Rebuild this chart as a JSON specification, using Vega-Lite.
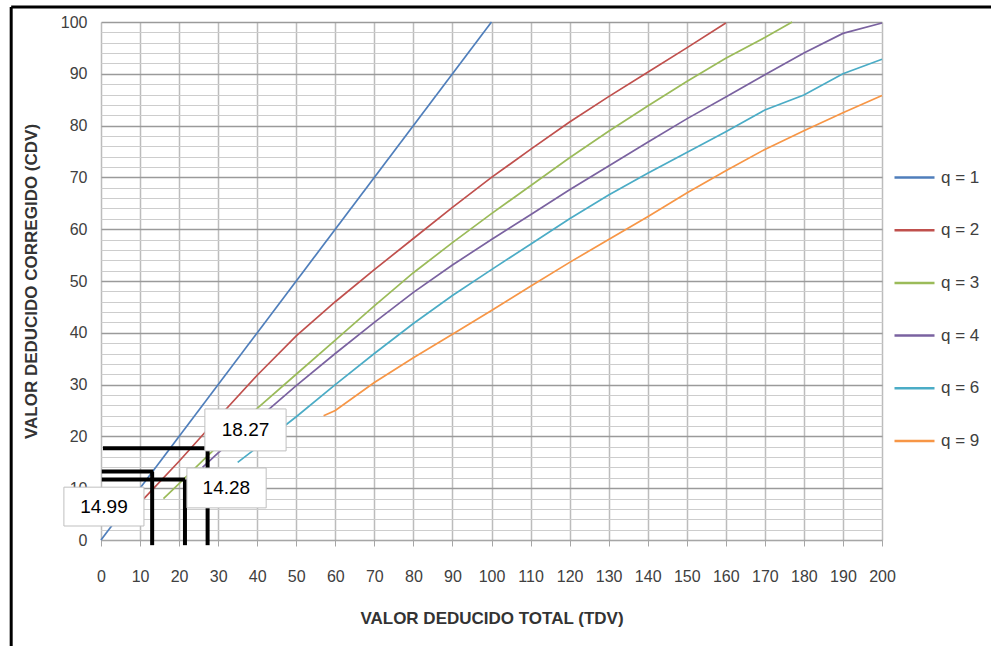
{
  "$schema": "https://vega.github.io/schema/vega-lite/v6.json",
  "width": 781,
  "height": 518,
  "autosize": {"type": "none"},
  "padding": {"left": 101, "top": 22, "right": 109, "bottom": 106},
  "background": "white",
  "config": {
    "view": {"stroke": null},
    "font": "Liberation Sans"
  },
  "datasets": {
    "frame": [
      {"x": -23, "y": 102.9, "x2": 228, "y2": 102.9},
      {"x": -23, "y": 102.9, "x2": -23, "y2": -21}
    ],
    "curves": [
      {"serie": "q = 1", "x": 0, "y": 0},
      {"serie": "q = 1", "x": 100, "y": 100},
      {"serie": "q = 2", "x": 11, "y": 8},
      {"serie": "q = 2", "x": 20, "y": 15.2},
      {"serie": "q = 2", "x": 30, "y": 23.6},
      {"serie": "q = 2", "x": 40, "y": 31.8},
      {"serie": "q = 2", "x": 50, "y": 39.4},
      {"serie": "q = 2", "x": 60, "y": 46},
      {"serie": "q = 2", "x": 70, "y": 52.2},
      {"serie": "q = 2", "x": 80, "y": 58.2},
      {"serie": "q = 2", "x": 90, "y": 64.2},
      {"serie": "q = 2", "x": 100, "y": 70},
      {"serie": "q = 2", "x": 110, "y": 75.4},
      {"serie": "q = 2", "x": 120, "y": 80.7},
      {"serie": "q = 2", "x": 130, "y": 85.6},
      {"serie": "q = 2", "x": 140, "y": 90.3},
      {"serie": "q = 2", "x": 150, "y": 95},
      {"serie": "q = 2", "x": 160, "y": 99.8},
      {"serie": "q = 3", "x": 16, "y": 8},
      {"serie": "q = 3", "x": 20, "y": 10.9},
      {"serie": "q = 3", "x": 30, "y": 18.2},
      {"serie": "q = 3", "x": 40, "y": 25.4},
      {"serie": "q = 3", "x": 50, "y": 32},
      {"serie": "q = 3", "x": 60, "y": 38.6},
      {"serie": "q = 3", "x": 70, "y": 45.2},
      {"serie": "q = 3", "x": 80, "y": 51.6},
      {"serie": "q = 3", "x": 90, "y": 57.4},
      {"serie": "q = 3", "x": 100, "y": 63},
      {"serie": "q = 3", "x": 110, "y": 68.4},
      {"serie": "q = 3", "x": 120, "y": 73.8},
      {"serie": "q = 3", "x": 130, "y": 78.9},
      {"serie": "q = 3", "x": 140, "y": 83.8},
      {"serie": "q = 3", "x": 150, "y": 88.5},
      {"serie": "q = 3", "x": 160, "y": 93},
      {"serie": "q = 3", "x": 170, "y": 97},
      {"serie": "q = 3", "x": 177, "y": 100},
      {"serie": "q = 4", "x": 26, "y": 14},
      {"serie": "q = 4", "x": 30, "y": 16.8},
      {"serie": "q = 4", "x": 40, "y": 23.3},
      {"serie": "q = 4", "x": 50, "y": 29.8},
      {"serie": "q = 4", "x": 60, "y": 36},
      {"serie": "q = 4", "x": 70, "y": 42},
      {"serie": "q = 4", "x": 80, "y": 47.8},
      {"serie": "q = 4", "x": 90, "y": 53.1},
      {"serie": "q = 4", "x": 100, "y": 58},
      {"serie": "q = 4", "x": 110, "y": 62.8},
      {"serie": "q = 4", "x": 120, "y": 67.6},
      {"serie": "q = 4", "x": 130, "y": 72.2},
      {"serie": "q = 4", "x": 140, "y": 76.8},
      {"serie": "q = 4", "x": 150, "y": 81.3},
      {"serie": "q = 4", "x": 160, "y": 85.5},
      {"serie": "q = 4", "x": 170, "y": 89.8},
      {"serie": "q = 4", "x": 180, "y": 94},
      {"serie": "q = 4", "x": 190, "y": 97.8},
      {"serie": "q = 4", "x": 200, "y": 99.8},
      {"serie": "q = 6", "x": 35, "y": 15},
      {"serie": "q = 6", "x": 40, "y": 17.9},
      {"serie": "q = 6", "x": 50, "y": 23.8},
      {"serie": "q = 6", "x": 60, "y": 30},
      {"serie": "q = 6", "x": 70, "y": 36},
      {"serie": "q = 6", "x": 80, "y": 41.8},
      {"serie": "q = 6", "x": 90, "y": 47.2},
      {"serie": "q = 6", "x": 100, "y": 52.2},
      {"serie": "q = 6", "x": 110, "y": 57.1},
      {"serie": "q = 6", "x": 120, "y": 62},
      {"serie": "q = 6", "x": 130, "y": 66.6},
      {"serie": "q = 6", "x": 140, "y": 70.8},
      {"serie": "q = 6", "x": 150, "y": 74.8},
      {"serie": "q = 6", "x": 160, "y": 78.8},
      {"serie": "q = 6", "x": 170, "y": 83},
      {"serie": "q = 6", "x": 180, "y": 85.9},
      {"serie": "q = 6", "x": 190, "y": 90},
      {"serie": "q = 6", "x": 200, "y": 92.8},
      {"serie": "q = 9", "x": 57, "y": 24},
      {"serie": "q = 9", "x": 60, "y": 25},
      {"serie": "q = 9", "x": 70, "y": 30.4},
      {"serie": "q = 9", "x": 80, "y": 35.2},
      {"serie": "q = 9", "x": 90, "y": 39.7},
      {"serie": "q = 9", "x": 100, "y": 44.3},
      {"serie": "q = 9", "x": 110, "y": 49},
      {"serie": "q = 9", "x": 120, "y": 53.6},
      {"serie": "q = 9", "x": 130, "y": 58},
      {"serie": "q = 9", "x": 140, "y": 62.4},
      {"serie": "q = 9", "x": 150, "y": 67},
      {"serie": "q = 9", "x": 160, "y": 71.3},
      {"serie": "q = 9", "x": 170, "y": 75.4},
      {"serie": "q = 9", "x": 180, "y": 79},
      {"serie": "q = 9", "x": 190, "y": 82.5},
      {"serie": "q = 9", "x": 200, "y": 85.8}
    ],
    "guides": [
      {"x": 0.5, "y": 17.7, "x2": 26.6, "y2": 17.7},
      {"x": 27.3, "y": 17.7, "x2": 27.3, "y2": -1},
      {"x": 0.2, "y": 13.2, "x2": 13.4, "y2": 13.2},
      {"x": 13.1, "y": 13.2, "x2": 13.1, "y2": -1},
      {"x": 0.2, "y": 11.7, "x2": 21.5, "y2": 11.7},
      {"x": 21.5, "y": 11.7, "x2": 21.5, "y2": -1}
    ],
    "boxes": [
      {"x": 26.6, "x2": 47.4, "y": 17.2, "y2": 25.3, "label": "18.27", "cx": 37, "cy": 21.2},
      {"x": 22.0, "x2": 42.3, "y": 6.2, "y2": 13.9, "label": "14.28", "cx": 32.1, "cy": 10.0},
      {"x": -9.5, "x2": 11.0, "y": 2.7, "y2": 10.2, "label": "14.99", "cx": 0.75, "cy": 6.4}
    ]
  },
  "encoding": {
    "x": {
      "field": "x",
      "type": "quantitative",
      "scale": {"domain": [0, 200], "nice": false, "zero": false},
      "axis": {
        "title": "VALOR DEDUCIDO TOTAL (TDV)",
        "values": [0, 10, 20, 30, 40, 50, 60, 70, 80, 90, 100, 110, 120, 130, 140, 150, 160, 170, 180, 190, 200],
        "grid": true,
        "gridColor": "#bcbcbc",
        "gridWidth": 1.5,
        "domain": true,
        "domainColor": "#a6a6a6",
        "domainWidth": 1,
        "ticks": true,
        "tickColor": "#a6a6a6",
        "tickSize": 6,
        "labelFont": "Liberation Sans",
        "labelFontSize": 16,
        "labelColor": "#404040",
        "labelPadding": 22,
        "labelFlush": false,
        "labelOverlap": false,
        "titleFont": "Liberation Sans",
        "titleFontSize": 17,
        "titleFontWeight": "bold",
        "titleColor": "#333333",
        "titlePadding": 26
      }
    },
    "y": {
      "field": "y",
      "type": "quantitative",
      "scale": {"domain": [0, 100], "nice": false, "zero": false},
      "axis": {
        "title": "VALOR DEDUCIDO CORREGIDO (CDV)",
        "values": [0, 2, 4, 6, 8, 10, 12, 14, 16, 18, 20, 22, 24, 26, 28, 30, 32, 34, 36, 38, 40, 42, 44, 46, 48, 50, 52, 54, 56, 58, 60, 62, 64, 66, 68, 70, 72, 74, 76, 78, 80, 82, 84, 86, 88, 90, 92, 94, 96, 98, 100],
        "labelExpr": "datum.value % 10 === 0 ? datum.label : ''",
        "grid": true,
        "gridColor": {"condition": {"test": "datum.value % 10 === 0", "value": "#9a9a9a"}, "value": "#cdcdcd"},
        "gridWidth": {"condition": {"test": "datum.value % 10 === 0", "value": 1.5}, "value": 1.2},
        "domain": false,
        "ticks": false,
        "labelFont": "Liberation Sans",
        "labelFontSize": 16,
        "labelColor": "#404040",
        "labelPadding": 14,
        "labelFlush": false,
        "labelOverlap": false,
        "titleFont": "Liberation Sans",
        "titleFontSize": 17,
        "titleFontWeight": "bold",
        "titleColor": "#333333",
        "titlePadding": 20
      }
    }
  },
  "layer": [
    {
      "data": {"name": "frame"},
      "mark": {"type": "rule", "color": "#000000", "strokeWidth": 3},
      "encoding": {
        "x2": {"field": "x2"},
        "y2": {"field": "y2"}
      }
    },
    {
      "data": {"name": "curves"},
      "mark": {"type": "line", "strokeWidth": 1.7},
      "encoding": {
        "color": {
          "field": "serie",
          "type": "nominal",
          "scale": {
            "domain": ["q = 1", "q = 2", "q = 3", "q = 4", "q = 6", "q = 9"],
            "range": ["#4F7EBB", "#C0504D", "#9BBB59", "#7A62A0", "#4BACC6", "#F79646"]
          },
          "legend": {
            "title": null,
            "orient": "none",
            "legendX": 792,
            "legendY": 134,
            "symbolType": "stroke",
            "symbolSize": 1600,
            "symbolStrokeWidth": 2.5,
            "rowPadding": 22.7,
            "labelFont": "Liberation Sans",
            "labelFontSize": 17,
            "labelColor": "#404040",
            "labelOffset": 5
          }
        }
      }
    },
    {
      "data": {"name": "guides"},
      "mark": {"type": "rule", "color": "#000000", "strokeWidth": 4},
      "encoding": {
        "x2": {"field": "x2"},
        "y2": {"field": "y2"}
      }
    },
    {
      "data": {"name": "boxes"},
      "mark": {"type": "rect", "fill": "#ffffff", "stroke": "#bfbfbf", "strokeWidth": 1},
      "encoding": {
        "x2": {"field": "x2"},
        "y2": {"field": "y2"}
      }
    },
    {
      "data": {"name": "boxes"},
      "mark": {"type": "text", "font": "Liberation Sans", "fontSize": 19, "color": "#000000", "align": "center", "baseline": "middle"},
      "encoding": {
        "x": {"field": "cx", "type": "quantitative"},
        "y": {"field": "cy", "type": "quantitative"},
        "text": {"field": "label"}
      }
    }
  ]
}
